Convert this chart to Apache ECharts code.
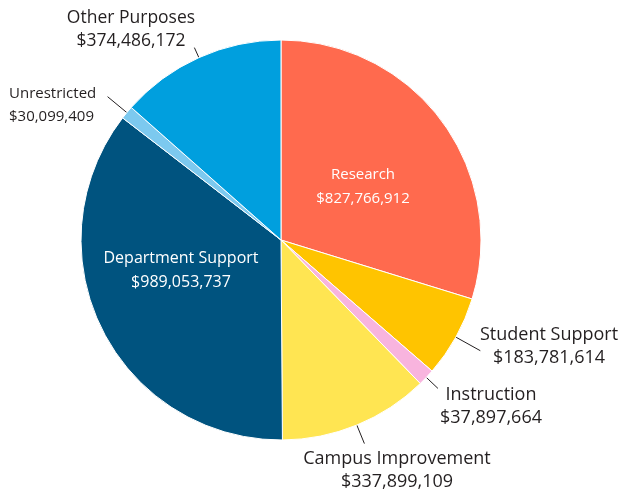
<!DOCTYPE html>
<html><head><meta charset="utf-8">
<script src="https://cdn.jsdelivr.net/npm/echarts@6/dist/echarts.min.js"></script>
<style>html,body{margin:0;padding:0;background:#fff}#c{width:621px;height:496px}</style>
</head><body><div id="c"></div>
<script>
var categories = ['Research','Student Support','Instruction','Campus Improvement','Department Support','Unrestricted','Other Purposes'];
var values = [827766912,183781614,37897664,337899109,989053737,30099409,374486172];
var colors = ['#FF6A4E','#FFC400','#F8B4DE','#FFE552','#00537F','#7CC9EF','#009FDE'];
var inside = [true,false,false,false,true,false,false];
// label styling / placement (not data)
var labelFont = [15,18,18,18,16,15,17.5];
var lineLen = [0,28,16,20,0,25,11];
var labelPos = [
  {x:363,y:187,align:'center'},
  {x:549,y:346,align:'center'},
  {x:491,y:406,align:'center'},
  {x:397,y:470,align:'center'},
  {x:181,y:270,align:'center'},
  {x:9,y:105,align:'left'},
  {x:131,y:30,align:'center'}
];
function fmt(v){return '$'+v.toString().replace(/\B(?=(\d{3})+(?!\d))/g, ',');}
var data = categories.map(function(c,i){
  return {name:c,value:values[i],itemStyle:{color:colors[i]},
    label:{color: inside[i] ? '#ffffff' : '#231F20', fontSize: labelFont[i], lineHeight: inside[i] ? 24 : 23},
    labelLine:{show: !inside[i], length: lineLen[i]}};
});
var chart = echarts.init(document.getElementById('c'));
chart.setOption({
  animation:false,
  series:[{
    type:'pie',
    center:[281,240],
    radius:200,
    startAngle:90,
    clockwise:true,
    avoidLabelOverlap:false,
    itemStyle:{borderColor:'#ffffff',borderWidth:1},
    label:{show:true,position:'outside',fontFamily:'Open Sans',fontSize:15,lineHeight:24,overflow:'none',width:300,
      formatter:function(p){return p.name+'\n'+fmt(p.value);}},
    labelLine:{show:true,length:10,length2:0,lineStyle:{color:'#231F20',width:1}},
    labelLayout:function(p){
      var lp = labelPos[p.dataIndex];
      var r = {x:lp.x,y:lp.y,align:lp.align,verticalAlign:'middle'};
      if (p.labelLinePoints) r.labelLinePoints = p.labelLinePoints;
      return r;
    },
    data:data
  }]
});
</script></body></html>
